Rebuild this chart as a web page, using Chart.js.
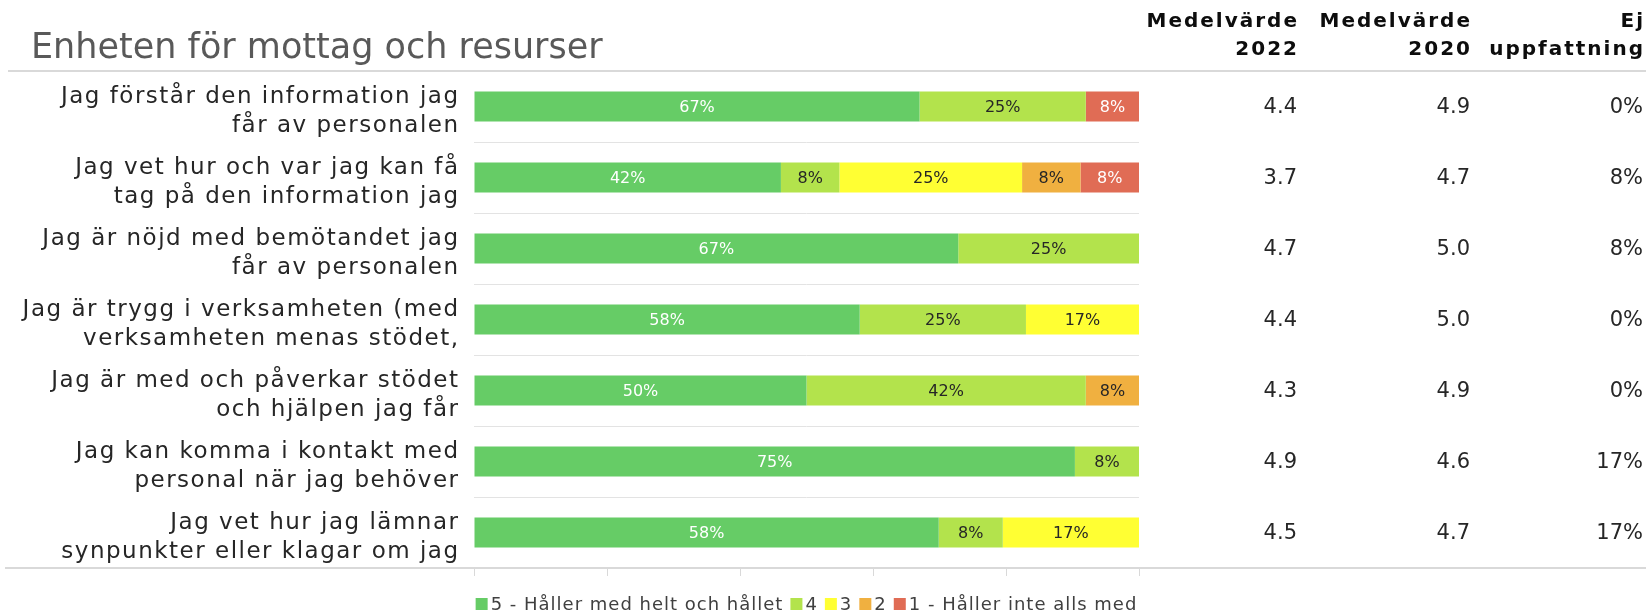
<!DOCTYPE html>
<html>
<head>
<meta charset="utf-8">
<style>
  html, body { margin: 0; padding: 0; background: #fff; }
  #wrap { width: 1646px; height: 614px; position: relative; }
</style>
</head>
<body>
<div id="wrap"><canvas id="chart"></canvas></div>
<script src="https://cdn.jsdelivr.net/npm/chart.js"></script>
<script>
  const title = 'Enheten för mottag och resurser';
  const categories = [
    ['Jag förstår den information jag', 'får av personalen'],
    ['Jag vet hur och var jag kan få', 'tag på den information jag'],
    ['Jag är nöjd med bemötandet jag', 'får av personalen'],
    ['Jag är trygg i verksamheten (med', 'verksamheten menas stödet,'],
    ['Jag är med och påverkar stödet', 'och hjälpen jag får'],
    ['Jag kan komma i kontakt med', 'personal när jag behöver'],
    ['Jag vet hur jag lämnar', 'synpunkter eller klagar om jag']
  ];
  const seriesNames = ['5 - Håller med helt och hållet', '4', '3', '2', '1 - Håller inte alls med'];
  const seriesColors = ['#66cc66', '#b3e34c', '#ffff33', '#f0b040', '#e06c55'];
  const labelColors = ['#ffffff', '#262626', '#262626', '#262626', '#ffffff'];
  const s5 = [67, 42, 67, 58, 50, 75, 58];
  const s4 = [25, 8, 25, 25, 42, 8, 8];
  const s3 = [0, 25, 0, 17, 0, 0, 17];
  const s2 = [0, 8, 0, 0, 8, 0, 0];
  const s1 = [8, 8, 0, 0, 0, 0, 0];
  const mean2022 = ['4.4', '3.7', '4.7', '4.4', '4.3', '4.9', '4.5'];
  const mean2020 = ['4.9', '4.7', '5.0', '5.0', '4.9', '4.6', '4.7'];
  const noOpinion = ['0%', '8%', '8%', '0%', '0%', '17%', '17%'];
  const colHeaders = [['Medelvärde', '2022'], ['Medelvärde', '2020'], ['Ej', 'uppfattning']];

  const series = [s5, s4, s3, s2, s1];
  // bars are scaled to the answers that had an opinion
  const rowTotals = categories.map((c, i) => series.reduce((a, s) => a + s[i], 0));

  const FONT = '"DejaVu Sans", sans-serif';
  const colRight = [1297, 1470, 1643];

  const extras = {
    id: 'extras',
    afterDraw(chart) {
      const ctx = chart.ctx;
      const area = chart.chartArea;
      const y = chart.scales.y;
      ctx.save();

      // title
      ctx.fillStyle = '#595959';
      ctx.font = '35px ' + FONT;
      ctx.textAlign = 'left';
      ctx.textBaseline = 'middle';
      ctx.fillText(title, 31, 49);

      // column headers
      ctx.fillStyle = '#0d0d0d';
      ctx.font = 'bold 20px ' + FONT;
      ctx.letterSpacing = '2px';
      ctx.textAlign = 'right';
      colHeaders.forEach((h, k) => {
        ctx.fillText(h[0], colRight[k] + 2, 22);
        ctx.fillText(h[1], colRight[k] + 2, 50);
      });

      // full width lines at top and bottom
      ctx.strokeStyle = '#d9d9d9';
      ctx.lineWidth = 2;
      ctx.beginPath();
      ctx.moveTo(8, area.top); ctx.lineTo(1646, area.top);
      ctx.moveTo(5, area.bottom); ctx.lineTo(1646, area.bottom);
      ctx.stroke();

      // category labels and table values
      categories.forEach((lines, i) => {
        const cy = y.getPixelForValue(i);
        ctx.fillStyle = '#262626';
        ctx.font = '23px ' + FONT;
        ctx.letterSpacing = '1.5px';
        ctx.textAlign = 'right';
        ctx.fillText(lines[0], 459.5, cy - 9);
        ctx.fillText(lines[1], 459.5, cy + 20);

        ctx.font = '21px ' + FONT;
        ctx.letterSpacing = '0px';
        ctx.fillText(mean2022[i], colRight[0], cy + 1);
        ctx.fillText(mean2020[i], colRight[1], cy + 1);
        ctx.fillText(noOpinion[i], colRight[2], cy + 1);
      });

      // value labels in the bars
      ctx.font = '16px ' + FONT;
      ctx.textAlign = 'center';
      chart.data.datasets.forEach((ds, d) => {
        const meta = chart.getDatasetMeta(d);
        meta.data.forEach((bar, i) => {
          const raw = series[d][i];
          if (!raw) return;
          const c = bar.getCenterPoint();
          ctx.fillStyle = labelColors[d];
          ctx.fillText(raw + '%', c.x, c.y + 1);
        });
      });

      // legend
      ctx.font = '18px ' + FONT;
      ctx.letterSpacing = '1px';
      ctx.textAlign = 'left';
      const box = 12, gap = 3, itemGap = 7;
      const widths = seriesNames.map(n => box + gap + ctx.measureText(n).width + itemGap);
      const total = widths.reduce((a, b) => a + b, 0) - itemGap;
      let lx = (area.left + area.right) / 2 - total / 2;
      const ly = 604;
      seriesNames.forEach((n, k) => {
        ctx.fillStyle = seriesColors[k];
        ctx.fillRect(lx, ly - box / 2, box, box);
        ctx.fillStyle = '#404040';
        ctx.fillText(n, lx + box + gap, ly + 1);
        lx += widths[k];
      });

      ctx.restore();
    }
  };

  const ctx = document.getElementById('chart').getContext('2d');
  new Chart(ctx, {
    type: 'bar',
    data: {
      labels: categories,
      datasets: series.map((s, d) => ({
        label: seriesNames[d],
        data: s.map((v, i) => v / rowTotals[i] * 100),
        backgroundColor: seriesColors[d],
        borderWidth: 0,
        barPercentage: 0.42,
        categoryPercentage: 1
      }))
    },
    options: {
      indexAxis: 'y',
      responsive: true,
      maintainAspectRatio: false,
      animation: false,
      layout: { padding: { left: 474, right: 507, top: 71, bottom: 38 } },
      plugins: {
        legend: { display: false },
        tooltip: { enabled: false }
      },
      scales: {
        x: {
          stacked: true,
          min: 0,
          max: 100,
          ticks: { display: false, stepSize: 20 },
          border: { display: false },
          grid: { drawOnChartArea: false, drawTicks: true, tickLength: 8, color: '#d9d9d9' }
        },
        y: {
          stacked: true,
          ticks: { display: false },
          border: { display: false },
          grid: { offset: true, drawTicks: false, color: '#e3e3e3' }
        }
      }
    },
    plugins: [extras]
  });
</script>
</body>
</html>
